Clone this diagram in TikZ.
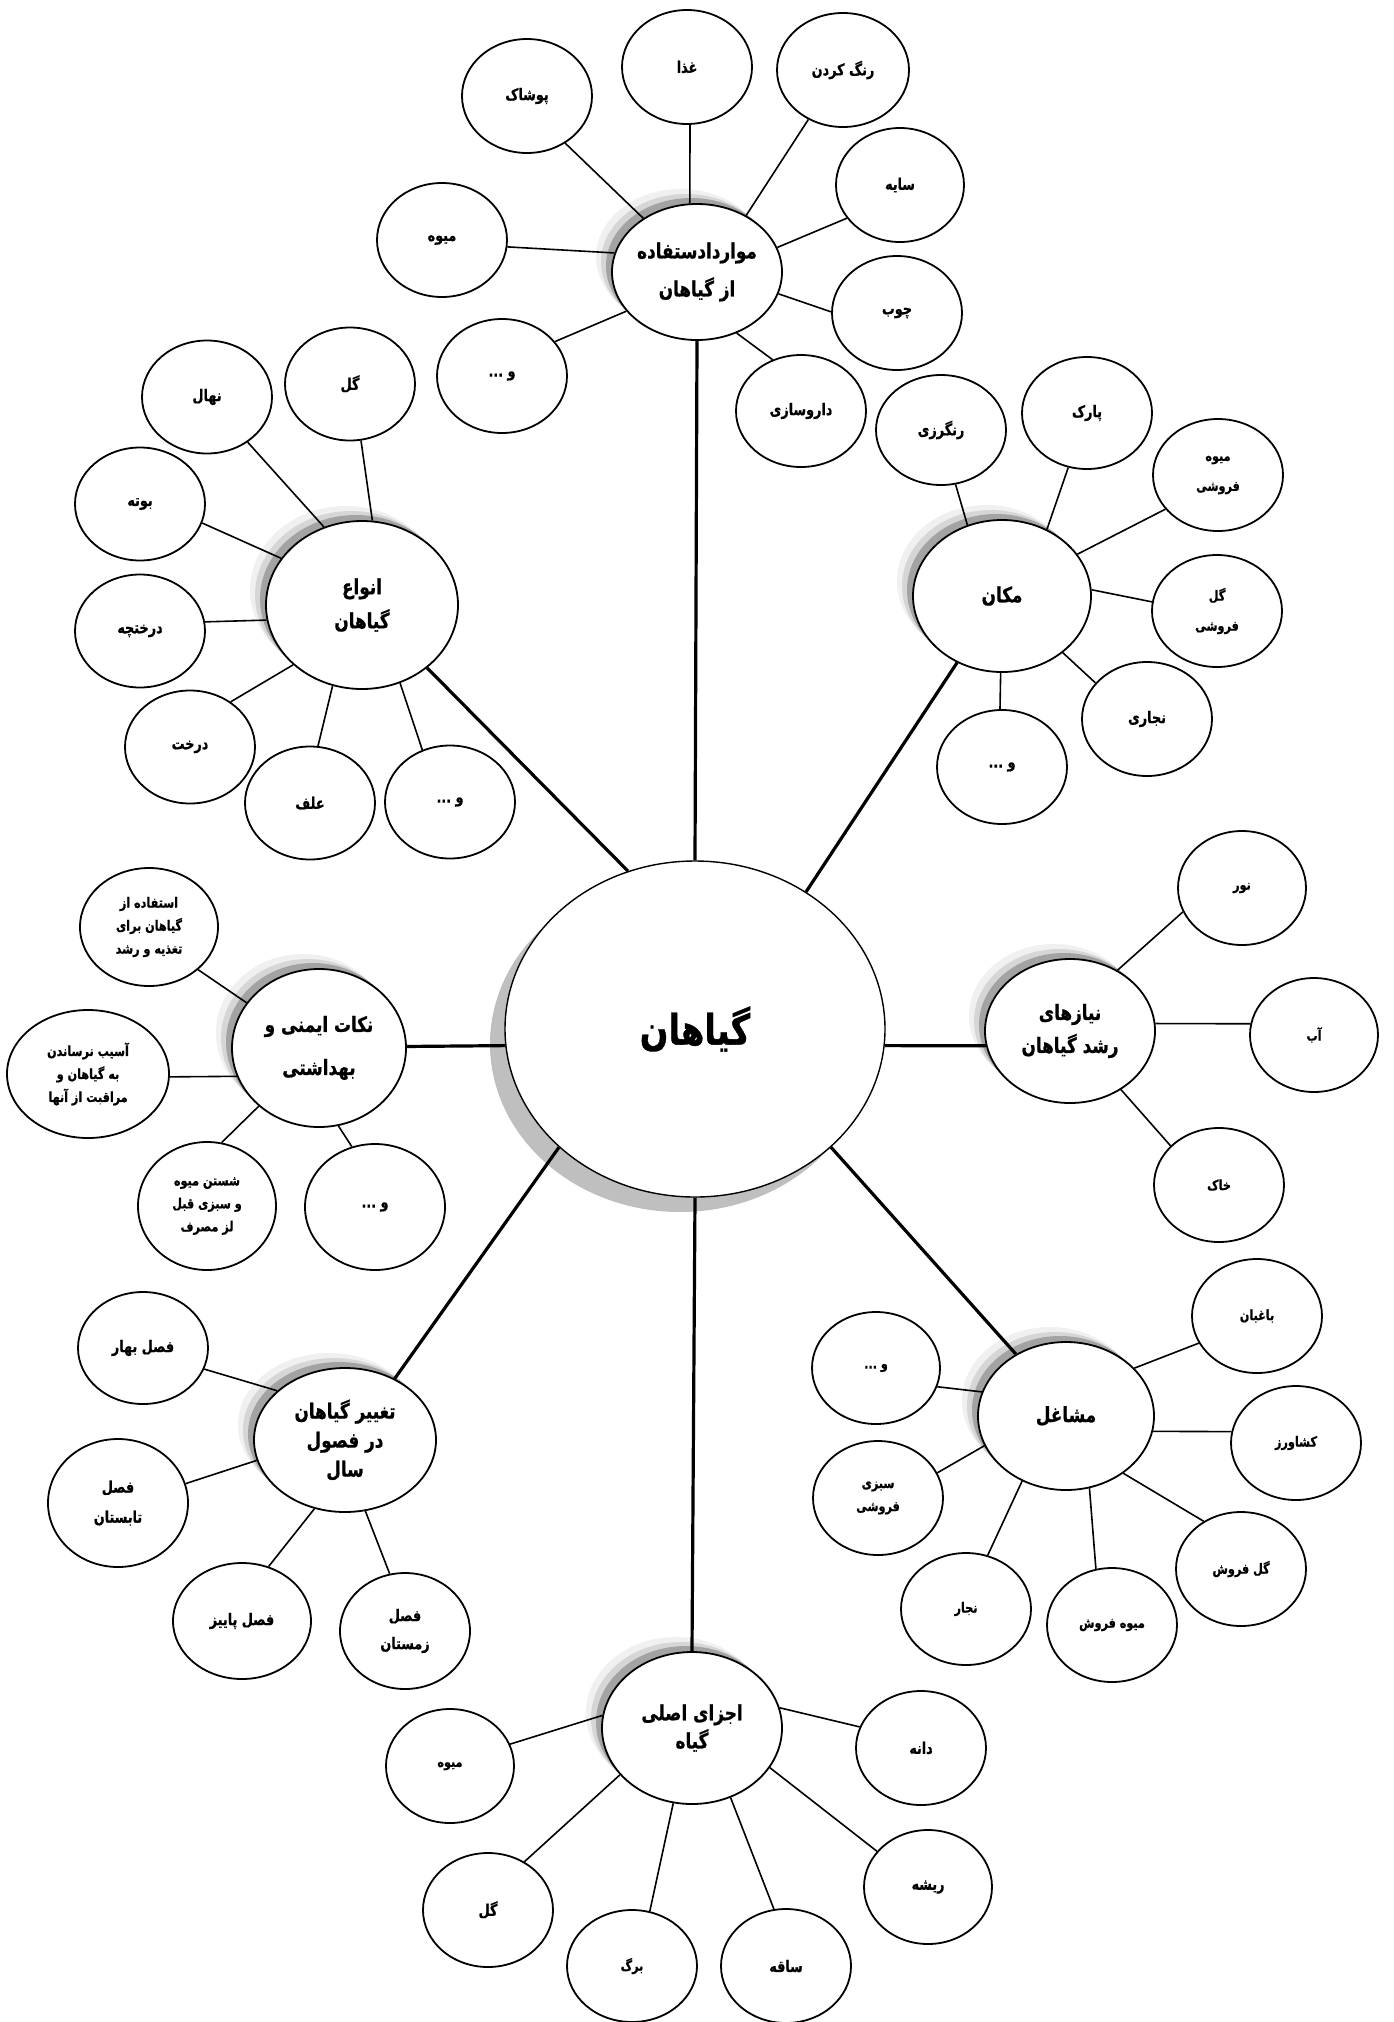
\documentclass[tikz,border=0pt]{standalone}
\usepackage{fontspec}
\newfontfamily\fa[Script=Arabic,FakeStretch=0.8,BoldFeatures={FakeBold=0.8}]{DejaVu Sans}
\TeXXeTstate=1
\usetikzlibrary{shapes.geometric,shadows}
\newcommand{\rl}[1]{\beginR #1\endR}
\begin{document}
\begin{tikzpicture}[x=1pt,y=-1pt,
  bub/.style={ellipse,draw,line width=1.8pt,fill=white,inner sep=0pt,align=center,
    font=\fa\bfseries\fontsize{16}{26}\selectfont},
  smalltxt/.style={font=\fa\bfseries\fontsize{14}{23}\selectfont},
  widetxt/.style={font=\fa\bfseries\fontsize{14}{30}\selectfont},
  sz/.style 2 args={minimum width=#1pt,minimum height=#2pt},
  hub/.style={bub,
    drop shadow={shadow xshift=-16pt,shadow yshift=15pt,fill=black!6,opacity=1},
    drop shadow={shadow xshift=-11pt,shadow yshift=10pt,fill=black!16,opacity=1},
    drop shadow={shadow xshift=-6pt,shadow yshift=6pt,fill=black!36,opacity=1}},
  hubtxt/.style={font=\fa\bfseries\fontsize{21}{#1}\selectfont},
  thinlink/.style={line width=1.6pt},
  mainlink/.style={line width=3.2pt}]
\fill[white] (0,0) rectangle (1393,2022);
\useasboundingbox (0,0) rectangle (1393,2022);

% centre
\node[bub,sz={380}{336},line width=1.4pt,font=\fa\bfseries\fontsize{42}{48}\selectfont,
  drop shadow={shadow xshift=-15pt,shadow yshift=-15pt,fill=black!25,opacity=1}] (C) at (695,1029) {\rl{گیاهان}};

% uses
\node[hub,hubtxt=38,sz={170}{136}] (U) at (697,272) {\rl{مواردادستفاده}\\\rl{از گیاهان}};
\node[bub,sz={130}{114}] (u1) at (527,96) {\rl{پوشاک}};
\node[bub,sz={130}{114}] (u2) at (687,67) {\rl{غذا}};
\node[bub,sz={132}{114}] (u3) at (843,70) {\rl{رنگ کردن}};
\node[bub,sz={128}{114}] (u4) at (900,185) {\rl{سایه}};
\node[bub,sz={130}{114}] (u5) at (442,240) {\rl{میوه}};
\node[bub,sz={130}{114}] (u6) at (897,313) {\rl{چوب}};
\node[bub,sz={130}{114}] (u7) at (502,376) {\rl{و ...}};
\node[bub,sz={130}{112}] (u8) at (801,411) {\rl{داروسازی}};

% types
\node[hub,hubtxt=34,sz={192}{168}] (T) at (362,605) {\rl{انواع}\\\rl{گیاهان}};
\node[bub,sz={130}{113}] (t1) at (350,384) {\rl{گل}};
\node[bub,sz={130}{113}] (t2) at (207,397) {\rl{نهال}};
\node[bub,sz={130}{113}] (t3) at (140,504) {\rl{بوته}};
\node[bub,sz={130}{113}] (t4) at (140,631) {\rl{درختچه}};
\node[bub,sz={130}{113}] (t5) at (190,747) {\rl{درخت}};
\node[bub,sz={130}{113}] (t6) at (310,803) {\rl{علف}};
\node[bub,sz={130}{113}] (t7) at (450,802) {\rl{و ...}};

% place
\node[hub,hubtxt=30,sz={178}{152}] (P) at (1002,596) {\rl{مکان}};
\node[bub,sz={130}{110}] (p1) at (941,430) {\rl{رنگرزی}};
\node[bub,sz={130}{112}] (p2) at (1087,413) {\rl{پارک}};
\node[bub,widetxt,sz={130}{112}] (p3) at (1218,475) {\rl{میوه}\\\rl{فروشی}};
\node[bub,widetxt,sz={130}{112}] (p4) at (1217,611) {\rl{گل}\\\rl{فروشی}};
\node[bub,sz={130}{114}] (p5) at (1147,719) {\rl{نجاری}};
\node[bub,sz={130}{114}] (p6) at (1002,767) {\rl{و ...}};

% needs
\node[hub,hubtxt=33,sz={170}{144}] (N) at (1070,1031) {\rl{نیازهای}\\\rl{رشد گیاهان}};
\node[bub,smalltxt,sz={128}{114}] (n1) at (1242,888) {\rl{نور}};
\node[bub,smalltxt,sz={128}{114}] (n2) at (1314,1035) {\rl{آب}};
\node[bub,smalltxt,sz={130}{114}] (n3) at (1219,1185) {\rl{خاک}};

% safety
\node[hub,hubtxt=43,sz={174}{158}] (S) at (319,1048) {\rl{نکات ایمنی و}\\\rl{بهداشتی}};
\node[bub,smalltxt,sz={138}{118}] (s1) at (149,927) {\rl{استفاده از}\\\rl{گیاهان برای}\\\rl{تغذیه و رشد}};
\node[bub,smalltxt,sz={162}{128}] (s2) at (88,1074) {\rl{آسیب نرساندن}\\\rl{به گیاهان و}\\\rl{مراقبت از آنها}};
\node[bub,smalltxt,sz={138}{128}] (s3) at (207,1206) {\rl{شستن میوه}\\\rl{و سبزی قبل}\\\rl{لز مصرف}};
\node[bub,sz={140}{126}] (s4) at (375,1207) {\rl{و ...}};

% seasons
\node[hub,hubtxt=29,sz={182}{144}] (Se) at (345,1440) {\rl{تغییر گیاهان}\\\rl{در فصول}\\\rl{سال}};
\node[bub,sz={130}{112}] (e1) at (143,1348) {\rl{فصل بهار}};
\node[bub,sz={140}{128},font=\fa\bfseries\fontsize{16}{30}\selectfont] (e2) at (118,1503) {\rl{فصل}\\\rl{تابستان}};
\node[bub,sz={138}{116}] (e3) at (242,1621) {\rl{فصل پاییز}};
\node[bub,sz={130}{116},font=\fa\bfseries\fontsize{16}{28}\selectfont] (e4) at (405,1631) {\rl{فصل}\\\rl{زمستان}};

% jobs
\node[hub,hubtxt=30,sz={176}{148}] (J) at (1066,1416) {\rl{مشاغل}};
\node[bub,smalltxt,sz={130}{114}] (j1) at (1257,1316) {\rl{باغبان}};
\node[bub,smalltxt,sz={130}{114}] (j2) at (1296,1443) {\rl{کشاورز}};
\node[bub,smalltxt,sz={130}{114}] (j3) at (1241,1569) {\rl{گل فروش}};
\node[bub,smalltxt,sz={130}{114}] (j4) at (1112,1625) {\rl{میوه فروش}};
\node[bub,smalltxt,sz={130}{112}] (j5) at (966,1609) {\rl{نجار}};
\node[bub,smalltxt,sz={130}{114}] (j6) at (878,1498) {\rl{سبزی}\\\rl{فروشی}};
\node[bub,smalltxt,sz={128}{112}] (j7) at (876,1368) {\rl{و ...}};

% parts
\node[hub,hubtxt=28,sz={180}{152}] (Pa) at (692,1728) {\rl{اجزای اصلی}\\\rl{گیاه}};
\node[bub,smalltxt,sz={128}{114}] (a1) at (450,1766) {\rl{میوه}};
\node[bub,sz={130}{114}] (a2) at (488,1910) {\rl{گل}};
\node[bub,smalltxt,sz={130}{112}] (a3) at (632,1966) {\rl{برگ}};
\node[bub,sz={130}{114}] (a4) at (786,1966) {\rl{ساقه}};
\node[bub,sz={128}{114}] (a5) at (928,1887) {\rl{ریشه}};
\node[bub,sz={130}{114}] (a6) at (921,1748) {\rl{دانه}};

% main links
\draw[mainlink] (C.90) -- (U.270);
\draw[mainlink] (C.113) -- (T.-44);
\draw[mainlink] (C.51) -- (P.236);
\draw[mainlink] (C.185) -- (S.1);
\draw[mainlink] (C.-5) -- (N.190);
\draw[mainlink] (C.221) -- (Se.51);
\draw[mainlink] (C.270) -- (Pa.90);
\draw[mainlink] (C.-41) -- (J.129);

% uses links
\draw[thinlink] (u1.-51) -- (U.135);
\draw[thinlink] (u2.-87) -- (U.96);
\draw[thinlink] (u3.235) -- (U.49);
\draw[thinlink] (u4.212) -- (U.17);
\draw[thinlink] (u5.-6) -- (U.167);
\draw[thinlink] (u6.179) -- (U.-15);
\draw[thinlink] (u7.33) -- (U.209);
\draw[thinlink] (u8.119) -- (U.-57);

% types links
\draw[thinlink] (t1.-79) -- (T.83);
\draw[thinlink] (t2.-48) -- (T.116);
\draw[thinlink] (t3.-17) -- (T.150);
\draw[thinlink] (t4.8.5) -- (T.189);
\draw[thinlink] (t5.48.5) -- (T.221);
\draw[thinlink] (t6.82) -- (T.250);
\draw[thinlink] (t7.118) -- (T.-64);

% place links
\draw[thinlink] (p1.-75) -- (P.116);
\draw[thinlink] (p2.-109) -- (P.56);
\draw[thinlink] (p3.213) -- (P.29);
\draw[thinlink] (p4.172) -- (P.4.5);
\draw[thinlink] (p5.145) -- (P.-43);
\draw[thinlink] (p6.92) -- (P.-91.5);

% needs links
\draw[thinlink] (n1.202) -- (N.52);
\draw[thinlink] (n2.170) -- (N.5);
\draw[thinlink] (n3.141) -- (N.-49);

% safety links
\draw[thinlink] (s1.-41) -- (S.148);
\draw[thinlink] (s2.-2) -- (S.199);
\draw[thinlink] (s3.77) -- (S.224);
\draw[thinlink] (s4.111) -- (S.-76);

% seasons links
\draw[thinlink] (e1.-19) -- (Se.144);
\draw[thinlink] (e2.16) -- (Se.193);
\draw[thinlink] (e3.64) -- (Se.246);
\draw[thinlink] (e4.105) -- (Se.-74);

% jobs links
\draw[thinlink] (j1.205) -- (J.35);
\draw[thinlink] (j2.170) -- (J.-10);
\draw[thinlink] (j3.128) -- (J.-45.5);
\draw[thinlink] (j4.106) -- (J.-72);
\draw[thinlink] (j5.68) -- (J.236);
\draw[thinlink] (j6.23) -- (J.200.5);
\draw[thinlink] (j7.-17) -- (J.164.5);

% parts links
\draw[thinlink] (a1.20.5) -- (Pa.172);
\draw[thinlink] (a2.53) -- (Pa.213);
\draw[thinlink] (a3.72) -- (Pa.256);
\draw[thinlink] (a4.102) -- (Pa.-61);
\draw[thinlink] (a5.145) -- (Pa.-27);
\draw[thinlink] (a6.161) -- (Pa.13);
\end{tikzpicture}
\end{document}
